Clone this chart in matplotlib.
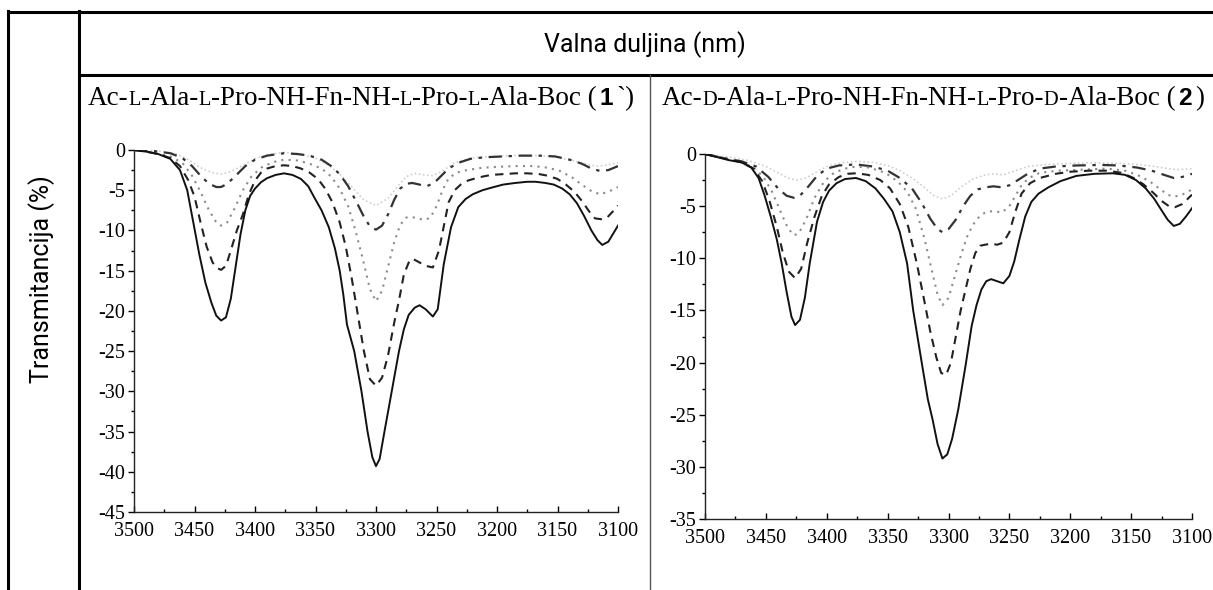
import matplotlib
matplotlib.use("Agg")
import matplotlib.pyplot as plt
from matplotlib.lines import Line2D
from matplotlib.ticker import MultipleLocator

plt.rcParams['axes.unicode_minus'] = False
plt.rcParams['font.family'] = 'Liberation Serif'

# ---- panel 1: Ac-L-Ala-L-Pro-NH-Fn-NH-L-Pro-L-Ala-Boc (1`)
x1_solid = [3500,3490,3480,3470,3462,3456,3451,3446,3441,3436,3432,3428,3424,3420,3416,3412,3408,3404,3400,3395,
            3390,3383,3376,3369,3362,3356,3351,3345,3339,3334,3330,3327,3324,3318,3312,3307,3303,3300,3297,3293,
            3287,3281,3277,3273,3268,3264,3259,3253,3249,3244,3238,3232,3226,3220,3212,3205,3195,3185,3175,3168,
            3160,3153,3146,3140,3134,3128,3122,3117,3113,3108,3104,3100]
y1_solid = [0,-0.2,-0.5,-1.1,-2.5,-5.0,-9.0,-13.0,-16.5,-19.0,-20.6,-21.2,-20.8,-18.5,-14.5,-10.5,-7.5,-5.7,-4.8,-4.0,
            -3.5,-3.1,-2.9,-3.1,-3.6,-4.5,-5.9,-7.5,-9.6,-12.2,-15,-18,-21.7,-25,-30,-35,-38.2,-39.3,-38.4,-35,
            -30,-25,-22.3,-20.5,-19.6,-19.3,-19.8,-20.7,-19.8,-14.2,-9.6,-7.1,-6.1,-5.5,-5.0,-4.7,-4.3,-4.1,-3.95,-3.95,
            -4.1,-4.3,-4.8,-5.5,-6.6,-8.2,-10.0,-11.2,-11.8,-11.4,-10.4,-9.4]

x1_dash = [3500,3490,3480,3470,3462,3455,3450,3445,3440,3435,3431,3428,3424,3420,3415,3410,3405,3400,3395,3390,
           3383,3376,3369,3362,3355,3348,3342,3336,3330,3325,3320,3315,3310,3305,3300,3295,3290,3285,3281,3277,
           3273,3270,3265,3259,3253,3248,3244,3240,3235,3230,3224,3215,3205,3195,3185,3175,3165,3158,3150,3143,
           3136,3130,3124,3119,3114,3109,3104,3100]
y1_dash = [0,-0.2,-0.5,-1.0,-2.0,-3.8,-5.8,-9.0,-12.0,-14.0,-14.7,-14.9,-14.4,-12.5,-10.0,-8.0,-5.5,-3.8,-2.8,-2.3,
           -2.0,-1.9,-2.0,-2.3,-2.8,-3.6,-4.8,-6.5,-9,-12,-16,-20.5,-25,-28.5,-29.3,-28.3,-25.5,-21.5,-18.7,-15.5,
           -14.0,-13.5,-13.9,-14.4,-14.6,-12.5,-9.5,-6.5,-5.0,-4.3,-3.8,-3.4,-3.1,-3.0,-2.9,-2.9,-3.0,-3.2,-3.6,-4.3,
           -5.2,-6.3,-7.6,-8.5,-8.6,-8.4,-7.6,-6.9]

x1_dot = [3500,3485,3470,3460,3452,3445,3438,3432,3428,3423,3417,3410,3403,3395,3385,3376,3365,3355,3345,3337,
          3330,3323,3317,3311,3305,3300,3295,3290,3285,3280,3275,3271,3266,3260,3255,3250,3245,3240,3233,3225,
          3212,3200,3185,3170,3158,3148,3138,3130,3122,3115,3108,3100]
y1_dot = [0,-0.3,-0.8,-1.6,-3.2,-5.2,-7.5,-9.0,-9.4,-9.0,-7.3,-5.0,-3.3,-2.2,-1.5,-1.2,-1.3,-1.7,-2.3,-3.3,
          -4.8,-7.0,-10.0,-13.5,-17.3,-18.8,-17.5,-14.5,-11.5,-9.3,-8.4,-8.3,-8.5,-8.7,-8.4,-7.0,-5.0,-3.5,-2.8,-2.5,
          -2.2,-2.1,-2.0,-2.0,-2.2,-2.6,-3.4,-4.3,-5.1,-5.5,-5.2,-4.6]

x1_dashdot = [3500,3485,3470,3460,3452,3445,3438,3432,3428,3423,3416,3408,3400,3390,3376,3365,3355,3345,3337,3330,
              3323,3316,3310,3305,3300,3295,3290,3285,3280,3275,3270,3264,3258,3252,3246,3240,3232,3222,3210,3195,
              3180,3165,3152,3140,3130,3122,3115,3108,3100]
y1_dashdot = [0,-0.1,-0.4,-1.0,-2.0,-3.2,-4.2,-4.6,-4.6,-4.2,-3.2,-2.0,-1.2,-0.7,-0.4,-0.5,-0.7,-1.2,-2.0,-3.0,
              -4.5,-6.5,-8.3,-9.5,-9.9,-9.4,-8.0,-6.2,-4.8,-4.2,-4.1,-4.3,-4.5,-4.1,-3.2,-2.3,-1.6,-1.1,-0.9,-0.8,
              -0.7,-0.7,-0.8,-1.2,-1.7,-2.3,-2.6,-2.5,-2.0]

x1_light = [3500,3480,3465,3455,3445,3436,3428,3420,3410,3400,3390,3376,3362,3350,3340,3330,3320,3310,3300,3290,
            3282,3275,3268,3260,3253,3245,3235,3222,3205,3185,3165,3150,3138,3128,3118,3110,3100]
y1_light = [0,-0.1,-0.5,-1.2,-2.2,-2.8,-3.0,-2.7,-1.9,-1.1,-0.6,-0.3,-0.5,-1.0,-1.8,-3.0,-4.6,-6.2,-6.9,-6.0,
            -4.5,-3.3,-2.9,-3.1,-3.2,-2.6,-1.6,-1.0,-0.8,-0.7,-0.7,-0.9,-1.3,-1.7,-2.0,-1.9,-1.6]

# ---- panel 2: Ac-D-Ala-L-Pro-NH-Fn-NH-L-Pro-D-Ala-Boc (2)
x2_solid = [3500,3490,3480,3470,3462,3456,3451,3446,3441,3437,3433,3429,3426,3422,3418,3414,3408,3403,3398,3392,
            3385,3376,3368,3360,3353,3346,3340,3334,3329,3322,3317,3313,3309,3305,3301,3297,3292,3286,3281,3277,
            3273,3269,3265,3260,3255,3250,3246,3242,3237,3232,3226,3218,3208,3195,3180,3165,3155,3146,3138,3131,
            3125,3120,3115,3110,3105,3100]
y2_solid = [0,-0.3,-0.6,-0.8,-1.3,-2.3,-4.0,-6.0,-8.2,-10.5,-13.2,-15.6,-16.4,-15.9,-13.8,-10.5,-6.5,-4.6,-3.5,-2.8,
            -2.4,-2.3,-2.6,-3.3,-4.3,-5.5,-7.5,-10.5,-15,-20,-23.5,-25.5,-27.8,-29.2,-28.8,-27.3,-24.5,-20.3,-16.5,-14.5,
            -13.0,-12.2,-12.0,-12.2,-12.4,-11.7,-10.3,-8.3,-6.0,-4.6,-3.8,-3.2,-2.6,-2.1,-1.9,-1.85,-2.0,-2.5,-3.3,-4.3,
            -5.4,-6.3,-6.9,-6.7,-6.0,-5.2]

x2_dash = [3500,3485,3470,3460,3453,3447,3441,3436,3431,3426,3421,3416,3410,3404,3398,3390,3383,3376,3366,3356,
           3348,3340,3333,3326,3320,3315,3310,3306,3302,3298,3294,3290,3286,3282,3278,3274,3270,3265,3260,3255,
           3250,3245,3240,3233,3225,3212,3200,3185,3170,3158,3148,3140,3132,3125,3119,3114,3108,3100]
y2_dash = [0,-0.4,-0.8,-1.4,-2.6,-4.5,-7.0,-9.5,-11.3,-11.9,-11.0,-8.5,-6.0,-4.0,-2.9,-2.2,-1.9,-1.85,-2.0,-2.5,
           -3.3,-4.8,-7.0,-10.5,-14.0,-17.0,-19.5,-21.0,-21.2,-20.0,-17.5,-15.0,-13.0,-11.0,-9.5,-8.8,-8.7,-8.6,-8.7,-8.5,
           -7.5,-5.5,-3.8,-2.8,-2.3,-1.9,-1.7,-1.6,-1.6,-1.8,-2.3,-2.9,-3.7,-4.5,-5.0,-5.1,-4.8,-3.9]

x2_dot = [3500,3485,3470,3460,3452,3445,3438,3432,3427,3423,3417,3410,3402,3394,3385,3376,3365,3352,3342,3334,
          3327,3320,3314,3309,3305,3300,3295,3290,3285,3280,3274,3268,3262,3256,3250,3245,3240,3234,3225,3210,
          3190,3170,3155,3145,3135,3127,3120,3115,3108,3100]
y2_dot = [0,-0.4,-0.8,-1.3,-2.2,-3.6,-5.5,-7.1,-7.8,-7.6,-6.3,-4.2,-2.6,-1.8,-1.4,-1.2,-1.3,-1.8,-2.6,-3.6,
          -5.2,-8.0,-11.0,-13.5,-14.5,-13.8,-11.8,-9.8,-8.0,-6.8,-5.9,-5.5,-5.5,-5.6,-5.0,-4.0,-3.0,-2.3,-1.8,-1.6,
          -1.5,-1.4,-1.6,-2.0,-2.6,-3.3,-3.9,-4.1,-3.9,-3.4]

x2_dashdot = [3500,3485,3470,3458,3448,3440,3433,3427,3422,3415,3408,3400,3390,3376,3362,3350,3340,3330,3322,3315,
              3309,3305,3300,3294,3288,3282,3276,3270,3263,3256,3250,3243,3235,3225,3212,3195,3175,3160,3145,3133,
              3123,3115,3108,3100]
y2_dashdot = [0,-0.4,-0.7,-1.2,-2.2,-3.3,-4.0,-4.2,-4.0,-3.1,-2.1,-1.4,-1.1,-1.0,-1.2,-1.6,-2.3,-3.3,-4.7,-6.2,
              -7.2,-7.5,-7.2,-6.3,-5.0,-4.0,-3.4,-3.2,-3.1,-3.2,-3.0,-2.5,-1.9,-1.4,-1.2,-1.1,-1.05,-1.1,-1.3,-1.6,
              -2.0,-2.3,-2.2,-1.9]

x2_light = [3500,3480,3465,3450,3440,3432,3425,3417,3408,3398,3385,3375,3362,3350,3340,3330,3320,3312,3305,3298,
            3290,3280,3270,3262,3255,3245,3235,3220,3200,3180,3160,3145,3130,3120,3112,3100]
y2_light = [0,-0.3,-0.6,-1.2,-1.8,-2.3,-2.5,-2.3,-1.7,-1.1,-0.8,-0.7,-0.8,-1.1,-1.6,-2.3,-3.2,-4.0,-4.3,-4.0,
            -3.2,-2.4,-2.0,-1.9,-2.0,-1.6,-1.2,-1.0,-0.9,-0.85,-0.9,-1.0,-1.2,-1.4,-1.5,-1.4]

x_label = "Valna duljina (nm)"
y_label = "Transmitancija (%)"
title1 = [("Ac-", 1), ("L", 0.75), ("-Ala-", 1), ("L", 0.75), ("-Pro-NH-Fn-NH-", 1), ("L", 0.75),
          ("-Pro-", 1), ("L", 0.75), ("-Ala-Boc (", 1), ("1", "b"), ("`)", 1)]
title2 = [("Ac-", 1), ("D", 0.75), ("-Ala-", 1), ("L", 0.75), ("-Pro-NH-Fn-NH-", 1), ("L", 0.75),
          ("-Pro-", 1), ("D", 0.75), ("-Ala-Boc (", 1), ("2", "b"), (")", 1)]

W, H = 1213, 590
fig = plt.figure(figsize=(W / 100, H / 100), dpi=100)


def box(l, t, r, b):
    return [l / W, 1 - b / H, (r - l) / W, (b - t) / H]


def style(ax, ymin):
    ax.set_xlim(3500, 3100)
    ax.set_ylim(ymin, 0)
    ax.xaxis.set_major_locator(MultipleLocator(50))
    ax.xaxis.set_minor_locator(MultipleLocator(25))
    ax.yaxis.set_major_locator(MultipleLocator(5))
    ax.yaxis.set_minor_locator(MultipleLocator(2.5))
    for s in ['top', 'right']:
        ax.spines[s].set_visible(False)
    for s in ['left', 'bottom']:
        ax.spines[s].set_linewidth(1.0)
        ax.spines[s].set_color('#222222')
    ax.tick_params(axis='y', which='major', direction='out', length=4.5, width=1, labelsize=14.5, pad=2)
    ax.tick_params(axis='y', which='minor', direction='out', length=2.5, width=1)
    ax.tick_params(axis='x', which='major', direction='in', length=4.5, width=1, labelsize=14.5, pad=7)
    ax.tick_params(axis='x', which='minor', direction='in', length=2.5, width=1)
    ax.patch.set_alpha(0)


def curves(ax, d):
    ax.plot(d[8], d[9], color='#cfcfcf', lw=1.2, ls=(0, (1, 1.5)))
    ax.plot(d[6], d[7], color='#333333', lw=1.6, ls=(0, (6, 3, 1.5, 3)))
    ax.plot(d[4], d[5], color='#8a8a8a', lw=1.5, ls=(0, (1, 2.5)))
    ax.plot(d[2], d[3], color='#222222', lw=1.5, ls=(0, (4, 3)))
    ax.plot(d[0], d[1], color='#111111', lw=1.4, ls='-')


ax1 = fig.add_axes(box(134, 150, 618, 512))
curves(ax1, [x1_solid, y1_solid, x1_dash, y1_dash, x1_dot, y1_dot, x1_dashdot, y1_dashdot, x1_light, y1_light])
style(ax1, -45)

ax2 = fig.add_axes(box(705, 154, 1192, 519))
curves(ax2, [x2_solid, y2_solid, x2_dash, y2_dash, x2_dot, y2_dot, x2_dashdot, y2_dashdot, x2_light, y2_light])
style(ax2, -35)

# table frame
def hline(y, x0, x1, lw, c='black'):
    fig.add_artist(Line2D([x0 / W, x1 / W], [1 - y / H, 1 - y / H], color=c, lw=lw, transform=fig.transFigure))


def vline(x, y0, y1, lw, c='black'):
    fig.add_artist(Line2D([x / W, x / W], [1 - y0 / H, 1 - y1 / H], color=c, lw=lw, transform=fig.transFigure))


hline(12, 8, W, 2.2)
vline(8, 11, H, 2.2)
vline(79, 11, H, 2.2)
hline(75, 79, W, 2.2)
vline(650, 75, H, 1.0, '#555555')

fig.text(645 / W, 1 - 45 / H, x_label, family='Roboto', fontsize=18, ha='center', va='center')
fig.text(42 / W, 1 - 279 / H, y_label, family='Roboto', fontsize=18, rotation=90, ha='center', va='center')

renderer = fig.canvas.get_renderer()


def title(pieces, x0, base, size=19.5):
    x = x0
    for txt, kind in pieces:
        if kind == "b":
            t = fig.text(x / W, 1 - base / H, txt, family='Liberation Sans', weight='bold',
                         fontsize=size * 0.9, va='baseline')
            x = t.get_window_extent(renderer).x1 + 3
        else:
            t = fig.text(x / W, 1 - base / H, txt, fontsize=size * kind, va='baseline')
            x = t.get_window_extent(renderer).x1
            if txt.endswith("("):
                x += 3


title(title1, 88, 105)
title(title2, 662, 105)

fig.savefig("out.png", dpi=100)
